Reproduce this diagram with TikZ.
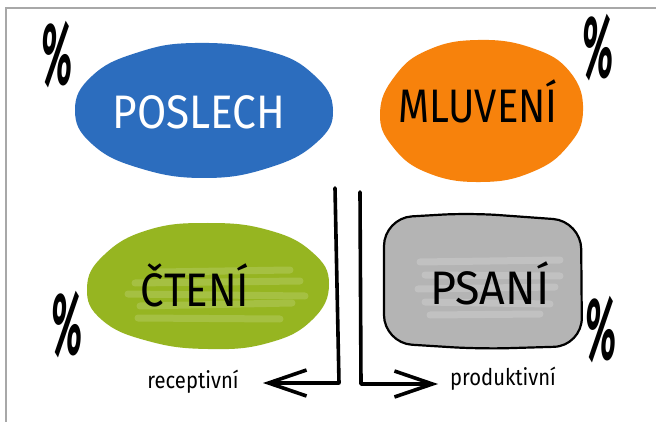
\documentclass[tikz,border=0pt]{standalone}
\usepackage{fontspec}
\setmainfont{Fira Sans}
\usepackage{tikz}
\usetikzlibrary{arrows.meta, positioning, calc}
\usepackage{xcolor}
\definecolor{poslechblue}{HTML}{2C6DBE}
\definecolor{mluveniorange}{HTML}{F7820C}
\definecolor{cteniGreen}{HTML}{96B521}
\definecolor{psaniGray}{HTML}{B4B4B4}
\definecolor{frameGray}{HTML}{A8A8A8}

\begin{document}
\begin{tikzpicture}[x=1pt, y=1pt,
  skill/.style={font=\fontsize{47}{47}\selectfont, xscale=0.85, inner sep=0pt},
  pct/.style={font=\fontsize{88}{88}\selectfont\bfseries, xscale=0.42, xslant=0.15, inner sep=0pt},
  side/.style={font=\fontsize{23}{23}\selectfont, xscale=0.88, inner sep=0pt},
  brush/.style={line width=7pt, line cap=round, opacity=0.3},
  flow/.style={line width=3.6pt, line cap=round, line join=round, -{Straight Barb[length=38pt, width=26pt, line width=3.6pt]}}]
\fill[white] (0,0) rectangle (656,-422);
\useasboundingbox (0,0) rectangle (656,-422);
\draw[frameGray, line width=1.5pt] (6,-422) -- (6,-8) -- (656,-8);

% painted blobs
\fill[poslechblue] plot[smooth cycle, tension=0.75] coordinates {(333,-110) (314,-75) (268,-51) (195,-43) (136,-53) (92,-76) (75,-110) (92,-144) (139,-168) (204,-178) (268,-168) (316,-143)};
\fill[mluveniorange] plot[smooth cycle, tension=0.75] coordinates {(583,-111) (570,-72) (532,-48) (478,-40) (428,-50) (395,-76) (380,-113) (393,-147) (428,-173) (481,-182) (532,-172) (568,-146)};
\fill[cteniGreen] plot[smooth cycle, tension=0.75] coordinates {(329,-284) (312,-252) (268,-230) (208,-223) (148,-230) (104,-255) (87,-288) (102,-320) (148,-341) (208,-349) (268,-343) (312,-320)};
\foreach \ya/\yb/\xa/\xb in {272/270/160/290, 283/281/135/300, 294/296/128/305, 306/303/140/292, 318/319/138/280}
  \draw[brush, cteniGreen!50!white] (\xa,-\ya) -- (\xb,-\yb);
\filldraw[psaniGray, draw=black, line width=2.2pt, rounded corners=28pt] (384,-218) -- (470,-213) -- (581,-221) -- (582,-346) -- (480,-349) -- (384,-343) -- cycle;
\foreach \ya/\yb/\xa/\xb in {262/260/420/560, 275/276/425/560, 289/287/418/555, 302/304/425/550, 315/314/430/540}
  \draw[brush, white, opacity=0.18] (\xa,-\ya) -- (\xb,-\yb);

% labels
\node[skill, white, xscale=1.06] (poslech) at (199,-112) {POSLECH};
\node[skill] (mluveni) at (478,-101) {MLUVENÍ};
\node[skill, xscale=1.05] (cteni) at (195,-285) {ČTENÍ};
\node[skill, xscale=1.12] (psani) at (490,-283) {PSANÍ};

\node[pct] (pctA) at (57,-55) {\%};
\node[pct] (pctB) at (598,-48) {\%};
\node[pct] (pctC) at (67,-325) {\%};
\node[pct] (pctD) at (601,-330) {\%};

% receptive / productive
\coordinate (recTop) at (335,-188);
\coordinate (recCorner) at (339,-383);
\coordinate (recTip) at (263,-383);
\coordinate (proTop) at (360,-192);
\coordinate (proCorner) at (361,-384);
\coordinate (proTip) at (438,-384);
\draw[flow] (recTop) -- (recCorner) -- (recTip);
\draw[flow] (proTop) -- (proCorner) -- (proTip);
\node[side] (receptivni) at (193,-382) {receptivní};
\node[side] (produktivni) at (503,-379) {produktivní};
\end{tikzpicture}
\end{document}
